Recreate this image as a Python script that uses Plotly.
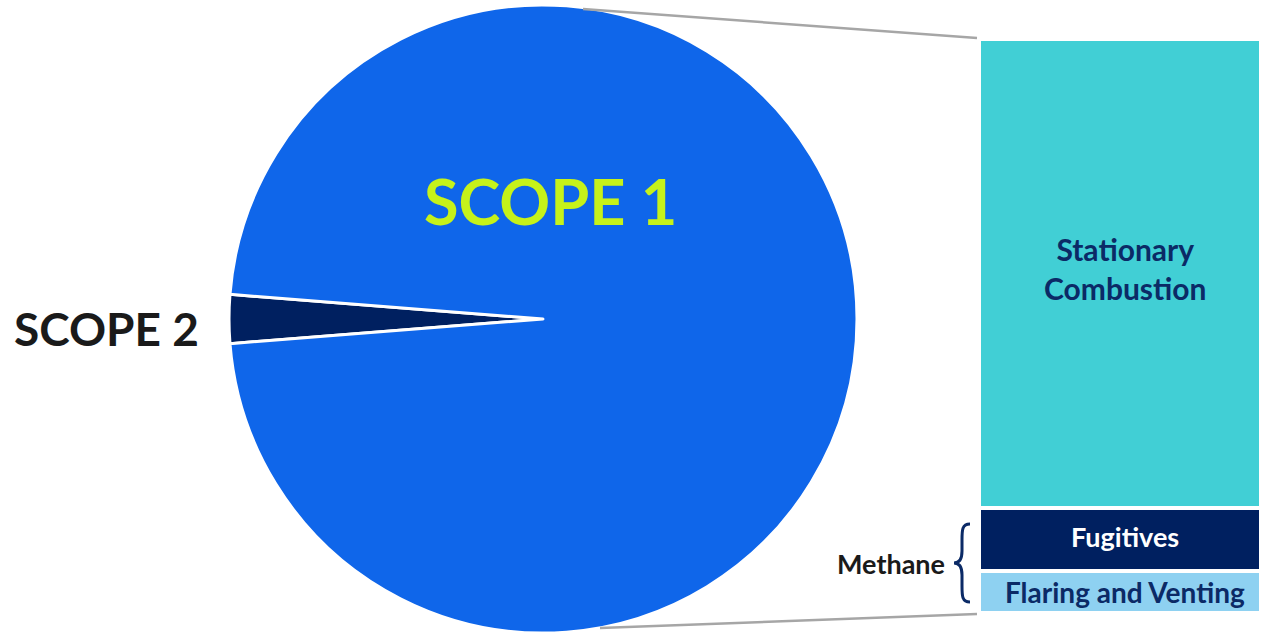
import plotly.graph_objects as go

# Canvas size in pixels
W, H = 1261, 638


def px(x):
    return x / W


def py(y):
    return 1 - y / H


# Emissions split by scope (share of total, %)
scope_labels = ["SCOPE 2", "SCOPE 1"]
scope_values = [2.5, 97.5]
scope_colors = ["#002060", "#0F66EA"]

# Breakdown of Scope 1 by source (share of Scope 1, %), bottom to top
source_labels = ["Flaring and Venting", "Fugitives", "Stationary<br>Combustion"]
source_values = [7.4, 10.9, 81.7]
source_colors = ["#8ED1F1", "#002060", "#41CFD5"]
source_text_colors = ["#0B2A66", "#FFFFFF", "#0B2A66"]
source_text_sizes = [28, 27, 30]
source_text_yshift = [0, 3, 5]

FONT = "Lato"

fig = go.Figure()

# Scope 2 wedge centred at 9 o'clock
rotation = 270 - scope_values[0] / sum(scope_values) * 360 / 2
fig.add_trace(go.Pie(
    labels=scope_labels,
    values=scope_values,
    sort=False,
    direction="clockwise",
    rotation=rotation,
    marker=dict(colors=scope_colors, line=dict(color="white", width=3)),
    textinfo="none",
    hoverinfo="label+percent",
    domain=dict(x=[px(229), px(857)], y=[0, 1]),
    showlegend=False,
))

# Stacked bar for the Scope 1 breakdown, labelled at each segment's midpoint
base = 0
for lab, val, col, tcol, tsize, ysh in zip(source_labels, source_values, source_colors,
                                          source_text_colors, source_text_sizes,
                                          source_text_yshift):
    fig.add_trace(go.Bar(
        x=["Scope 1"],
        y=[val],
        name=lab.replace("<br>", " "),
        marker=dict(color=col, line=dict(color="white", width=4)),
        width=1,
        xaxis="x",
        yaxis="y",
        showlegend=False,
        hoverinfo="name+y",
    ))
    fig.add_annotation(text=lab, x=0, y=base + val / 2, xref="x", yref="y",
                       showarrow=False, xanchor="center", yanchor="middle",
                       xshift=5, yshift=ysh,
                       font=dict(family=FONT, size=tsize, color=tcol, weight="bold"))
    base += val

fig.update_layout(
    width=W,
    height=H,
    margin=dict(l=0, r=0, t=0, b=0),
    paper_bgcolor="white",
    plot_bgcolor="white",
    barmode="stack",
    bargap=0,
    xaxis=dict(domain=[px(979), 1], range=[-0.5, 0.5], visible=False, fixedrange=True),
    yaxis=dict(domain=[py(613), py(39)], range=[0, sum(source_values)], visible=False, fixedrange=True),
    font=dict(family=FONT),
)

# Connector lines from the pie to the bar
line_style = dict(color="#A6A6A6", width=2.5)
fig.add_shape(type="line", xref="paper", yref="paper",
              x0=px(583), y0=py(9), x1=px(977), y1=py(38), line=line_style)
fig.add_shape(type="line", xref="paper", yref="paper",
              x0=px(600), y0=py(628), x1=px(977), y1=py(614), line=line_style)

# Curly brace grouping the methane sources
brace_pts = [
    ("M", 970, 524), ("C", 962, 524), ("", 962, 530), ("", 962, 540),
    ("L", 962, 551), ("C", 962, 560), ("", 959, 563), ("", 954, 563),
    ("C", 959, 563), ("", 962, 566), ("", 962, 575),
    ("L", 962, 586), ("C", 962, 596), ("", 962, 602), ("", 970, 602),
]
path = " ".join(f"{cmd}{px(x):.5f},{py(y):.5f}" if cmd else f"{px(x):.5f},{py(y):.5f}"
                for cmd, x, y in brace_pts)
fig.add_shape(type="path", xref="paper", yref="paper", path=path,
              line=dict(color="#0B2A66", width=3))

# Text labels
fig.add_annotation(text="SCOPE 1", x=px(550), y=py(200), xref="paper", yref="paper",
                   showarrow=False, xanchor="center", yanchor="middle",
                   font=dict(family=FONT, size=63, color="#C6F21A", weight="bold"))
fig.add_annotation(text="SCOPE 2", x=px(106), y=py(328), xref="paper", yref="paper",
                   showarrow=False, xanchor="center", yanchor="middle",
                   font=dict(family=FONT, size=46, color="#1A1A1A", weight="bold"))
fig.add_annotation(text="Methane", x=px(891), y=py(563), xref="paper", yref="paper",
                   showarrow=False, xanchor="center", yanchor="middle",
                   font=dict(family=FONT, size=27, color="#1A1A1A", weight="bold"))

fig.write_html("out.html")
